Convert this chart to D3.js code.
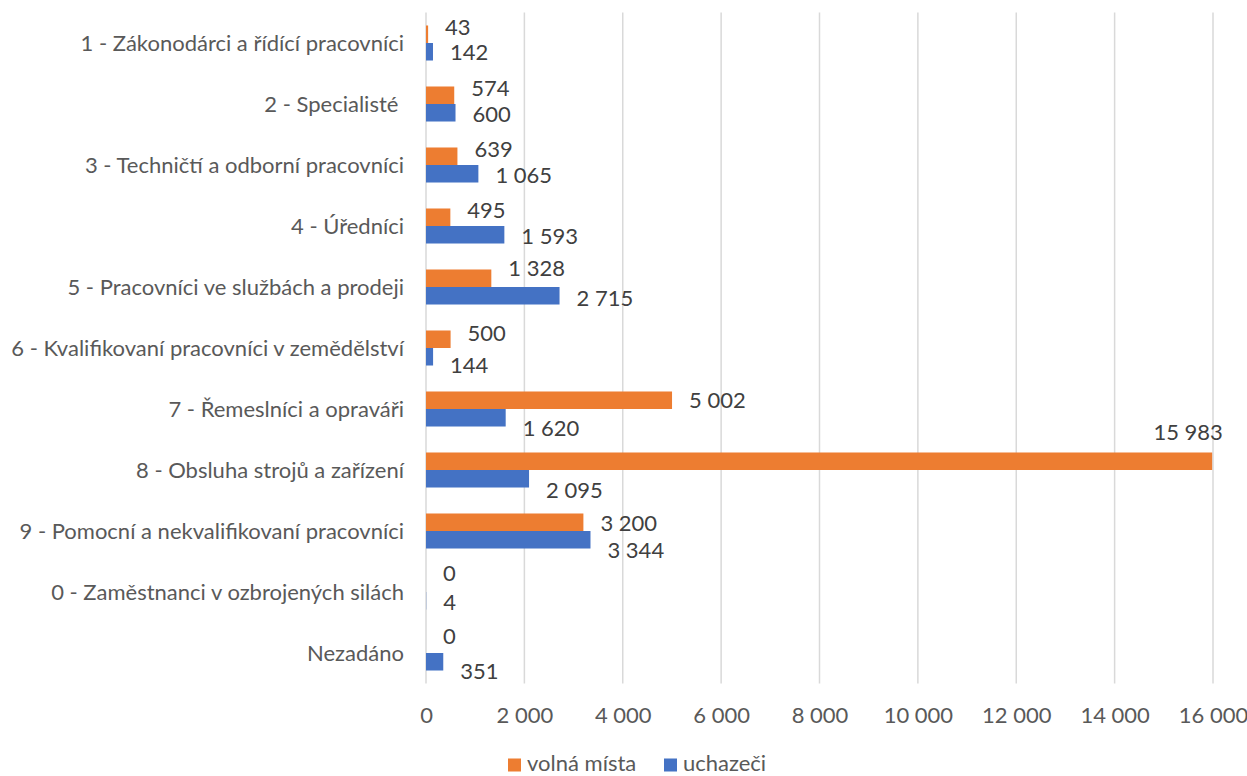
<!DOCTYPE html>
<html><head><meta charset="utf-8">
<script src="https://cdn.jsdelivr.net/npm/d3@7"></script>
<style>
html,body{margin:0;padding:0;background:#fff;}
svg text{font-family:Lato,"Open Sans",sans-serif;}
</style></head>
<body><svg id="chart" width="1247" height="776"></svg>
<script>
const categories = [
  "1 - Zákonodárci a řídící pracovníci",
  "2 - Specialisté ",
  "3 - Techničtí a odborní pracovníci",
  "4 - Úředníci",
  "5 - Pracovníci ve službách a prodeji",
  "6 - Kvalifikovaní pracovníci v zemědělství",
  "7 - Řemeslníci a opraváři",
  "8 - Obsluha strojů a zařízení",
  "9 - Pomocní a nekvalifikovaní pracovníci",
  "0 - Zaměstnanci v ozbrojených silách",
  "Nezadáno"
];
const volnaMista = [43, 574, 639, 495, 1328, 500, 5002, 15983, 3200, 0, 0];
const uchazeci   = [142, 600, 1065, 1593, 2715, 144, 1620, 2095, 3344, 4, 351];
const seriesNames = ["volná místa", "uchazeči"];
const xTicks = [0, 2000, 4000, 6000, 8000, 10000, 12000, 14000, 16000];

// label nudges (pixels) relative to default outside-end placement
const orangeLabelDy = [-7, -7, -7, -7.5, -10, -6.5, 0, -29.5, 1, -10, -8.5];
const blueLabelDy   = [0, 1, 1.5, 1, 2, 8, 10, 11, 10, 1.5, 9];

const colors = ["#ED7D31", "#4472C4"];
const fs = 22;
const svg = d3.select("#chart");

const x = d3.scaleLinear().domain([0, 16000]).range([426, 1213]);
const y = d3.scaleBand().domain(categories).range([12.5, 683.5]).paddingInner(0.426).paddingOuter(0.213);
const ys = d3.scaleBand().domain(seriesNames).range([0, y.bandwidth()]);

const fmt = v => d3.format(",")(v).replace(/,/g, " ");

// gridlines
svg.append("g").selectAll("line").data(xTicks).join("line")
  .attr("x1", d => x(d)).attr("x2", d => x(d))
  .attr("y1", 12.5).attr("y2", 683.5)
  .attr("stroke", "#d9d9d9").attr("stroke-width", 1.5);

// x tick labels via axis
const xAxis = d3.axisBottom(x).tickValues(xTicks).tickSize(0).tickPadding(0).tickFormat(fmt);
const gx = svg.append("g").attr("transform", "translate(0,700)").call(xAxis);
gx.select(".domain").remove();
gx.selectAll("text").attr("font-size", fs).attr("fill", "#595959")
  .attr("font-family", "Lato").attr("dy", "1.03em");

// category labels via axis
const yAxis = d3.axisLeft(y).tickSize(0).tickPadding(0);
const gy = svg.append("g").attr("transform", "translate(404,0)").call(yAxis);
gy.select(".domain").remove();
gy.selectAll("text").attr("font-size", fs).attr("fill", "#595959")
  .attr("font-family", "Lato").attr("dy", "0.36em").style("white-space", "pre");

const data = [volnaMista, uchazeci];
data.forEach((vals, si) => {
  const g = svg.append("g");
  g.selectAll("rect").data(vals).join("rect")
    .attr("x", x(0))
    .attr("y", (d, i) => y(categories[i]) + ys(seriesNames[si]))
    .attr("width", d => x(d) - x(0))
    .attr("height", ys.bandwidth())
    .attr("fill", colors[si]);
  const dys = si === 0 ? orangeLabelDy : blueLabelDy;
  g.selectAll("text").data(vals).join("text")
    .attr("x", (d, i) => (si === 0 && i === 7) ? x(d) - 24 : x(d) + 17)
    .attr("y", (d, i) => y(categories[i]) + ys(seriesNames[si]) + ys.bandwidth() / 2 + dys[i] + 0.36 * fs)
    .attr("text-anchor", (d, i) => (si === 0 && i === 7) ? "middle" : "start")
    .attr("font-size", fs).attr("fill", "#404040")
    .text(d => fmt(d));
});

// legend
const legend = [{name: seriesNames[0], x: 508}, {name: seriesNames[1], x: 664}];
const lg = svg.append("g");
legend.forEach((l, i) => {
  lg.append("rect").attr("x", l.x).attr("y", 758.5).attr("width", 13).attr("height", 13).attr("fill", colors[i]);
  lg.append("text").attr("x", l.x + 19).attr("y", 771).attr("font-size", fs)
    .attr("fill", "#595959").text(l.name);
});
</script></body></html>
